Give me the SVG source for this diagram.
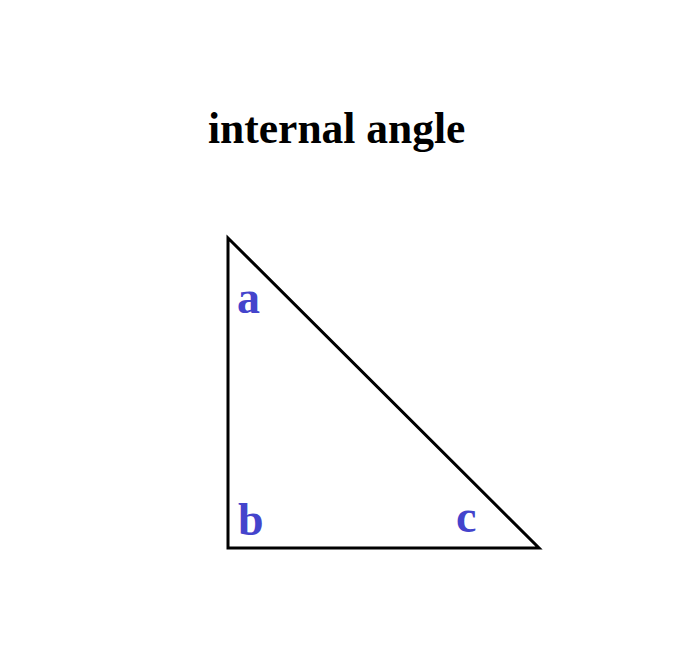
<svg xmlns="http://www.w3.org/2000/svg" width="692" height="668" viewBox="0 0 692 668">
<style>
.title{font-family:"Liberation Serif",serif;font-weight:bold;font-size:43.5px;fill:#000}
.lbl{font-family:"Liberation Serif",serif;font-weight:bold;font-size:46px;fill:#4444cc}
</style>
<rect width="692" height="668" fill="#fff"/>
<text class="title" x="208" y="143">internal angle</text>
<g id="connectors">
<polygon points="228,238 228,548 539,548" fill="none" stroke="#000" stroke-width="3"/>
</g>
<g id="label-a"><text class="lbl" x="237" y="313">a</text></g>
<g id="label-b"><text class="lbl" x="238" y="535">b</text></g>
<g id="label-c"><text class="lbl" x="456" y="532">c</text></g>
</svg>
